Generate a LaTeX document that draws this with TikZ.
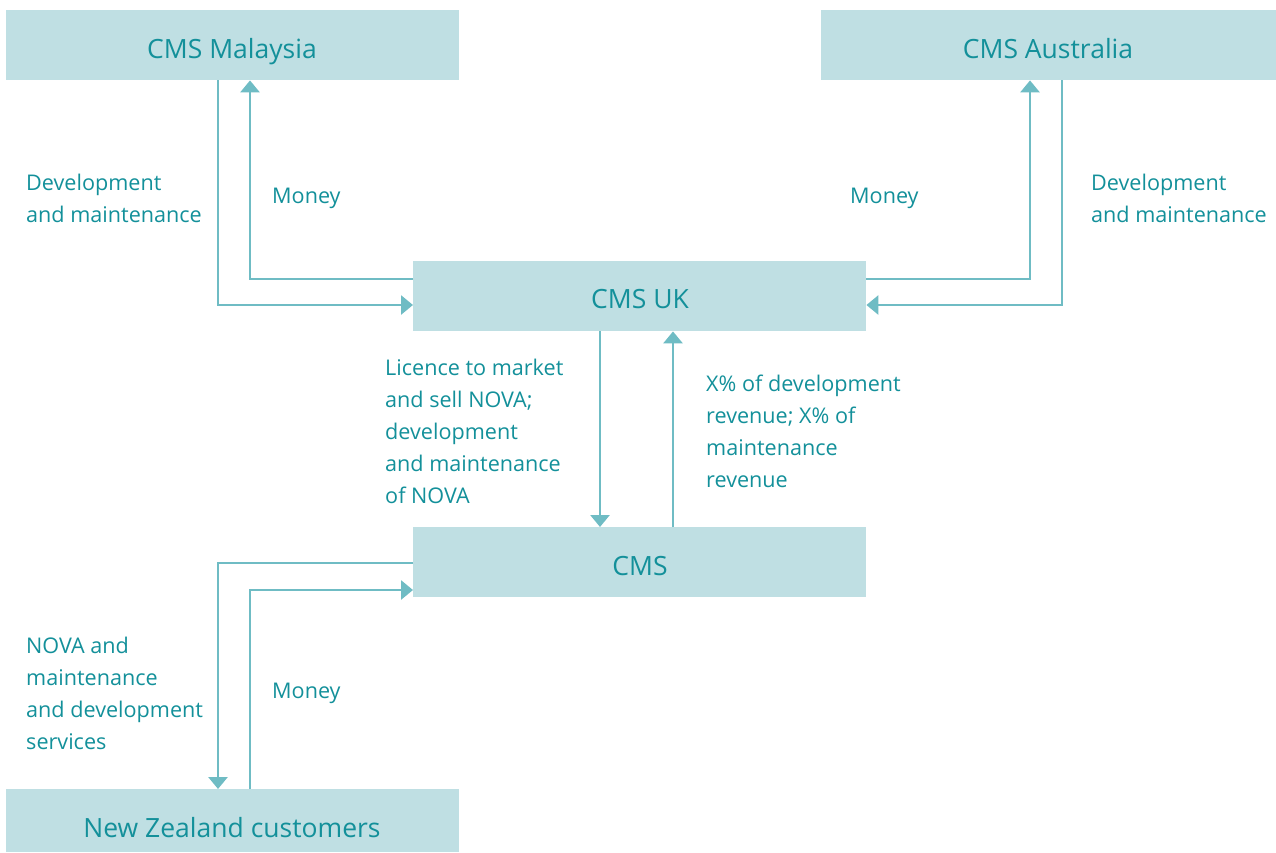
\documentclass[tikz,border=0pt]{standalone}
\usepackage{fontspec}
\setmainfont{Open Sans}
\usetikzlibrary{arrows.meta}
\definecolor{boxfill}{HTML}{BFDFE3}
\definecolor{linec}{HTML}{6FBCC4}
\definecolor{textc}{HTML}{13909A}
\begin{document}
\begin{tikzpicture}[x=1pt,y=-1pt,
  box/.style={fill=boxfill,draw=none,minimum width=453pt,minimum height=70pt,inner sep=0pt,anchor=north west},
  title/.style={text=textc,font=\fontsize{26.5}{30}\selectfont,inner sep=0pt,anchor=base},
  lbl/.style={anchor=west,align=left,inner sep=0pt,text=textc,font=\fontsize{21.6}{32}\selectfont},
  flow/.style={draw=linec,line width=2.8pt,-{Triangle[width=19pt,length=12pt]}}]
\useasboundingbox (0,0) rectangle (1276,852);
\node[box] (mal) at (6,10) {};
\node[box,minimum width=455pt] (aus) at (821,10) {};
\node[box] (uk) at (413,261) {};
\node[box] (cms) at (413,527) {};
\node[box,minimum height=63pt] (nz) at (6,789) {};
\node[title] (tmal) at (232,58) {CMS Malaysia};
\node[title] (taus) at (1048,58) {CMS Australia};
\node[title] (tuk) at (640,308) {CMS UK};
\node[title] (tcms) at (640,575) {CMS};
\node[title] (tnz) at (232,837) {New Zealand customers};
% Malaysia
\draw[flow] (mal.south west -| 218,0) |- (uk.west |- 0,305);
\draw[flow] (uk.west |- 0,279) -| (mal.south west -| 250,0);
% Australia
\draw[flow] (uk.east |- 0,279) -| (aus.south west -| 1030,0);
\draw[flow] (aus.south west -| 1062,0) |- (uk.east |- 0,305);
% UK <-> CMS
\draw[flow] (uk.south west -| 600,0) -- (cms.north west -| 600,0);
\draw[flow] (cms.north west -| 673,0) -- (uk.south west -| 673,0);
% CMS <-> NZ
\draw[flow] (cms.west |- 0,563) -| (nz.north west -| 218,0);
\draw[flow] (nz.north west -| 250,0) |- (cms.west |- 0,590);
% labels
\node[lbl] (l1) at (26,198) {Development\\and maintenance};
\node[lbl] (l2) at (272,198) {Money};
\node[lbl] (l3) at (850,198) {Money};
\node[lbl] (l4) at (1091,198) {Development\\and maintenance};
\node[lbl] (l5) at (385,431) {Licence to market\\and sell NOVA;\\development\\and maintenance\\of NOVA};
\node[lbl] (l6) at (706,431) {X\% of development\\revenue; X\% of\\maintenance\\revenue};
\node[lbl] (l7) at (26,693) {NOVA and\\maintenance\\and development\\services};
\node[lbl] (l8) at (272,693) {Money};
\end{tikzpicture}
\end{document}
